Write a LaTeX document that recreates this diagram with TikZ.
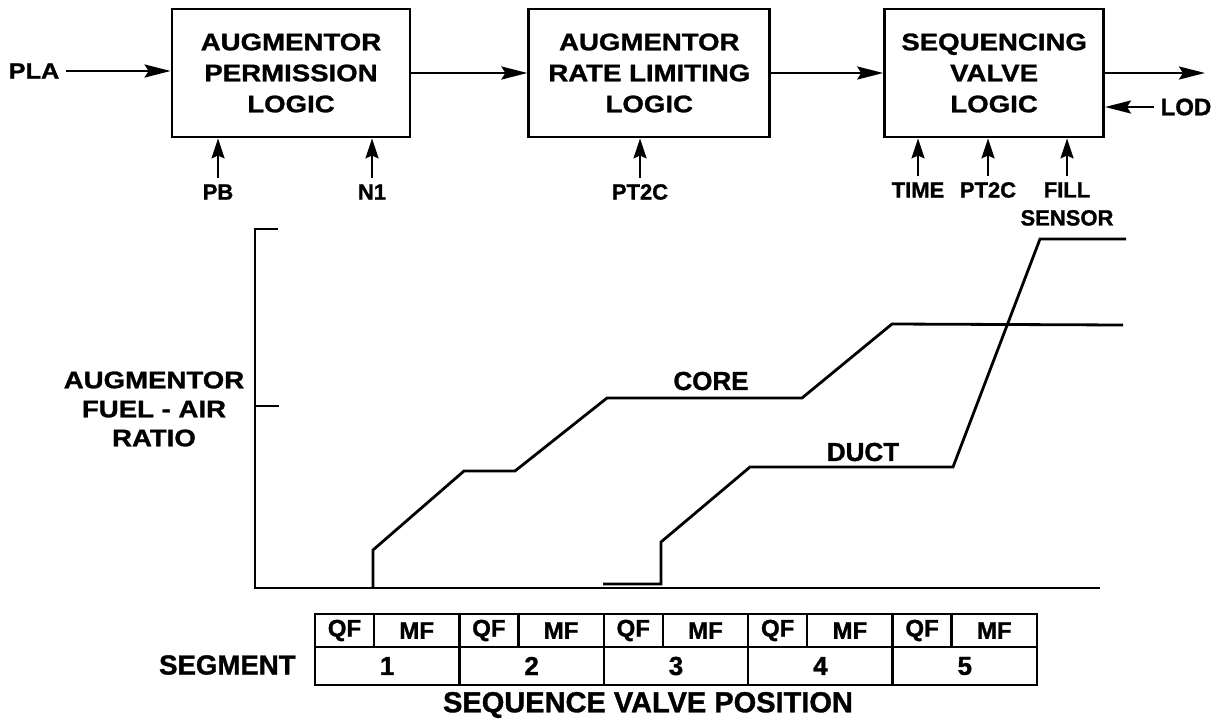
\documentclass[tikz,border=0pt]{standalone}
\usepackage{fontspec}
\setmainfont{Liberation Sans}[BoldFeatures={FakeBold=1.2}]
\newfontfamily\widefont{Liberation Sans}[FakeStretch=1.15, BoldFeatures={FakeBold=1.2}]
\usetikzlibrary{arrows.meta, positioning}

\begin{document}
\begin{tikzpicture}[
    x=0.5pt, y=-0.5pt,
    blk/.style={draw, line width=1.4pt, minimum height=64pt, align=center, inner sep=2pt, font=\widefont\bfseries\fontsize{12}{15.5}\selectfont},
    lbl/.style={align=center, inner sep=3pt, font=\bfseries\fontsize{11}{14}\selectfont},
    arr/.style={-{Stealth[length=13pt, width=6.5pt, inset=2pt]}, line width=1.3pt},
    inarr/.style={-{Stealth[length=10pt, width=6.5pt, inset=1.5pt]}, line width=1.3pt},
    trace/.style={line width=1.4pt},
    cell/.style={draw, line width=1.2pt, outer sep=0pt, inner sep=0pt, anchor=north west, font=\bfseries\fontsize{12}{14}\selectfont}
]
\useasboundingbox (0,0) rectangle (1223,719);
\node[blk, minimum width=119pt] (perm) at (291,73) {AUGMENTOR\\PERMISSION\\LOGIC};
\node[blk, minimum width=120.5pt, right=58pt of perm] (rate) {AUGMENTOR\\RATE LIMITING\\LOGIC};
\node[blk, minimum width=109.5pt, right=56pt of rate] (seqv) {SEQUENCING\\VALVE\\LOGIC};
\node[lbl, font=\widefont\bfseries\fontsize{11}{13}\selectfont] (pla) at (34,71) {PLA};
\node[lbl, font=\bfseries\fontsize{12}{14}\selectfont] (lod) at (1186,107) {LOD};
\coordinate (out) at (1205,73);
\draw[arr] (pla.east) -- (pla.east -| perm.west);
\draw[arr] (perm) -- (rate);
\draw[arr] (rate) -- (seqv);
\draw[arr] (seqv) -- (out);
\draw[arr] (lod) -- (lod -| seqv.east);

\node[lbl] (pb) at (218,192) {PB};
\node[lbl] (n1) at (372,192) {N1};
\node[lbl] (pt2a) at (640,192) {PT2C};
\node[lbl] (time) at (918,190) {TIME};
\node[lbl] (pt2b) at (988,190) {PT2C};
\node[lbl] (fill) at (1067,204) {FILL\\SENSOR};
\foreach \s/\b in {pb/perm, n1/perm, pt2a/rate, time/seqv, pt2b/seqv, fill/seqv}
  \draw[inarr] (\s.north) -- (\s.north |- \b.south);

\draw[trace] (278,229) -- (255,229) -- (255,588) -- (1100,588);
\draw[trace] (255,406) -- (279,406);
\draw[trace] (373,588) -- (373,550) -- (464,471) -- (515,471) -- (607,398) -- (802,398) -- (892,324) -- (1123,325);
\draw[trace] (603,584) -- (661,584) -- (661,542) -- (750,467) -- (953,467) -- (1040,239) -- (1126,239);
\node[lbl, font=\widefont\bfseries\fontsize{12}{14.5}\selectfont] (far) at (154,409) {AUGMENTOR\\FUEL - AIR\\RATIO};
\node[lbl, font=\bfseries\fontsize{13}{15}\selectfont] (core) at (711,381) {CORE};
\node[lbl, font=\bfseries\fontsize{13}{15}\selectfont] (duct) at (863,452) {DUCT};

\foreach \i in {1,...,5}{
  \pgfmathsetmacro\xa{315+(\i-1)*144.4}
  \node[cell, minimum width=29.5pt, minimum height=16.5pt] (qf\i) at (\xa,614) {QF};
  \node[cell, minimum width=42.7pt, minimum height=16.5pt] (mf\i) at (qf\i.north east) {MF};
  \node[cell, minimum width=72.2pt, minimum height=19pt, font=\bfseries\fontsize{13}{15}\selectfont] (seg\i) at (qf\i.south west) {\i};
}
\node[lbl, anchor=east, font=\bfseries\fontsize{13.8}{16}\selectfont] (seglab) at (302,665) {SEGMENT};
\node[lbl, font=\bfseries\fontsize{14.5}{17}\selectfont] (svp) at (648,705) {SEQUENCE VALVE POSITION};
\end{tikzpicture}
\end{document}
